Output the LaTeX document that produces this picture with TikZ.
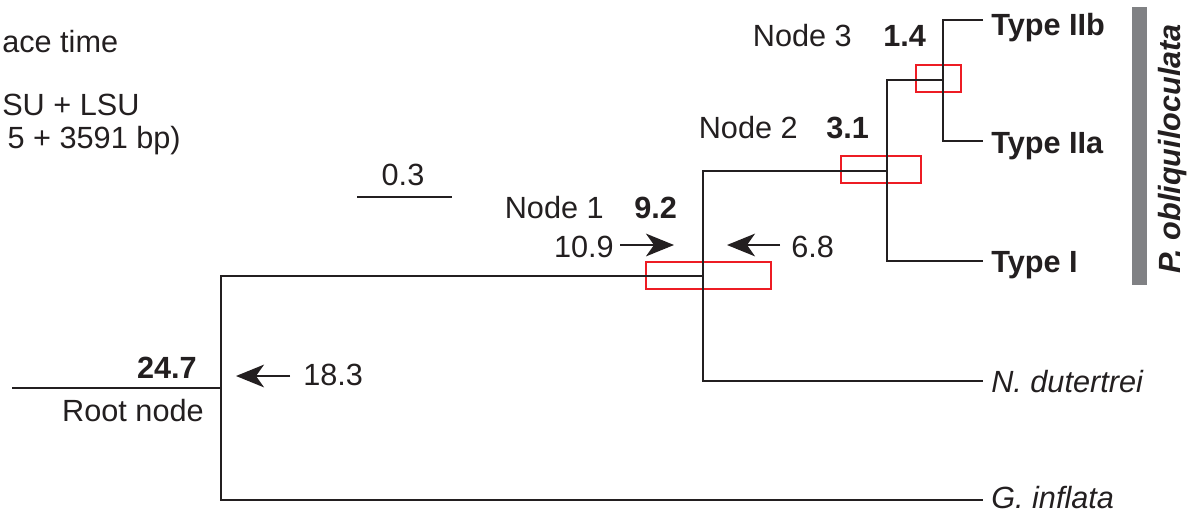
\documentclass[tikz,border=0pt]{standalone}
\usepackage{fontspec}
\setmainfont{Liberation Sans}
\usepackage{xcolor}
\usetikzlibrary{arrows.meta,positioning}

\definecolor{inkdark}{RGB}{35,31,32}
\definecolor{hpdred}{RGB}{237,28,36}
\definecolor{bargray}{RGB}{128,129,132}

\begin{document}
\begin{tikzpicture}[x=0.75pt,y=0.75pt,yscale=-1,xscale=1,
  every node/.style={font=\fontsize{23}{27}\selectfont,text=inkdark,inner sep=0.75pt},
  branch/.style={draw=inkdark,line width=1.6pt},
  hpd/.style={draw=hpdred,line width=1.5pt},
  agearrow/.style={draw=inkdark,line width=1.6pt,-{Stealth[length=21pt,width=17pt,inset=6pt]}}]
\useasboundingbox (0,0) rectangle (1194,514);

%Tree nodes
\coordinate (rootstem) at (12,388);
\coordinate (root) at (221,388);
\coordinate (n1) at (703,276);
\coordinate (n2) at (887,171);
\coordinate (n3) at (943,80);
%Tips
\coordinate (tIIb) at (983,20);
\coordinate (tIIa) at (983,141);
\coordinate (tI) at (983,261);
\coordinate (tNdut) at (983,381);
\coordinate (tGinf) at (983,500);

%Credibility boxes
\draw[hpd] (646,262) rectangle (771,289);
\draw[hpd] (841,156) rectangle (921,183);
\draw[hpd] (916,65) rectangle (961,92);

%Branches
\draw[branch] (rootstem) -- (root);
\draw[branch] (n1) -| (root) |- (tGinf);
\draw[branch] (n2) -| (n1) |- (tNdut);
\draw[branch] (n3) -| (n2) |- (tI);
\draw[branch] (tIIb) -| (n3) |- (tIIa);

% Tip labels
\node[anchor=base west] (IIb) at (990,35) {\bfseries Type IIb};
\node[anchor=base west] (IIa) at (990,153) {\bfseries Type IIa};
\node[anchor=base west] (TI) at (990,272) {\bfseries Type I};
\node[anchor=base west] (Ndut) at (990,392) {\itshape N. dutertrei};
\node[anchor=base west] (Ginf) at (990,508) {\itshape G. inflata};

% Clade bar
\fill[bargray] (1132,7) rectangle (1147,285);
\node[anchor=base,rotate=90] (clade) at (1180,149) {\bfseries\itshape P. obliquiloculata};

% Node labels
\node[anchor=base east] (lab3) at (853,46) {Node 3};
\node[anchor=base west] (age3) at (882,46) {\bfseries 1.4};
\node[anchor=base east] (lab2) at (799,138) {Node 2};
\node[anchor=base west] (age2) at (825,138) {\bfseries 3.1};
\node[anchor=base east] (lab1) at (605,218) {Node 1};
\node[anchor=base west] (age1) at (633,218) {\bfseries 9.2};
\node[anchor=base east] (labroot) at (205,421) {Root node};
\node[anchor=base east] (ageroot) at (198,378) {\bfseries 24.7};

% Calibration ages
\node[anchor=base east] (min1) at (615,257) {10.9};
\node[anchor=base west] (max1) at (790,257) {6.8};
\node[anchor=base west] (maxroot) at (302,385) {18.3};
\coordinate (min1s) at (620,245);
\coordinate (min1e) at (674,245);
\coordinate (max1s) at (780,245);
\coordinate (max1e) at (727,245);
\coordinate (maxrs) at (290,376);
\coordinate (maxre) at (236,376);
\draw[agearrow] (min1s) -- (min1e);
\draw[agearrow] (max1s) -- (max1e);
\draw[agearrow] (maxrs) -- (maxre);

% Scale bar
\coordinate (sbl) at (357,197);
\coordinate (sbr) at (452,197);
\draw[branch] (sbl) -- (sbr);
\node[anchor=base] (sblab) at (403,185) {0.3};

% Legend text
\node[anchor=base west] (leg1) at (1,52) {ace time};
\node[anchor=base west] (leg2) at (1,115) {SU + LSU};
\node[anchor=base east] (leg3) at (182,148) {5 + 3591 bp)};

\end{tikzpicture}
\end{document}
